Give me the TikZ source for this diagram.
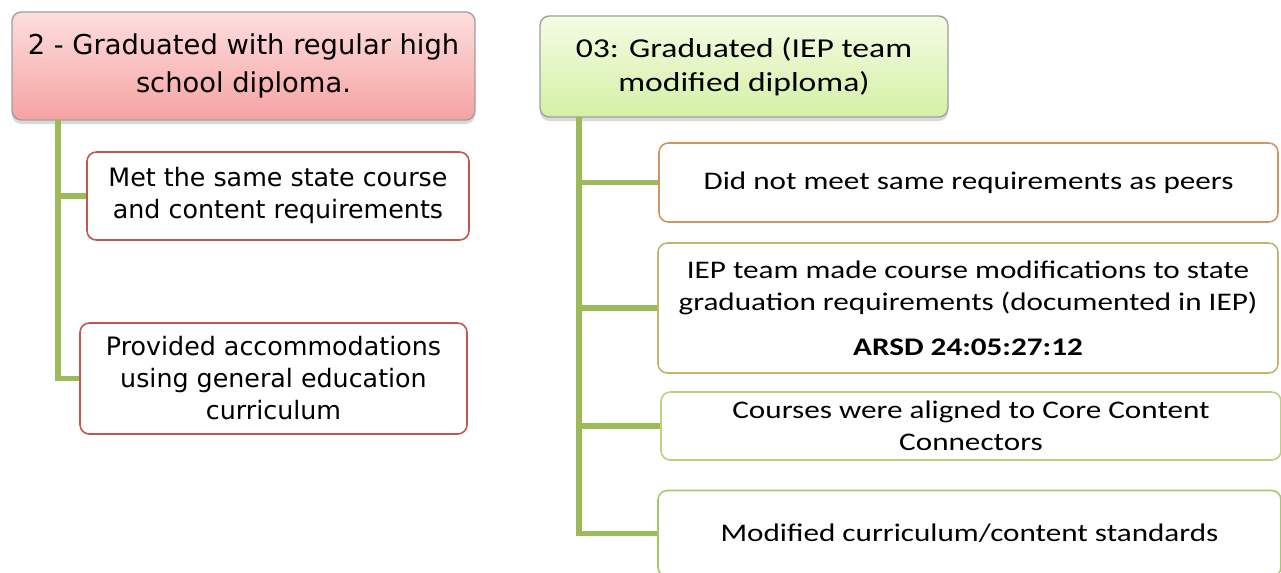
\documentclass[tikz,border=0pt]{standalone}
\usepackage{fontspec}
\setmainfont{Carlito}[FakeStretch=1.23]
\newfontfamily\verdfont{DejaVu Sans}
\usepackage{tikz}
\usetikzlibrary{positioning,shadows}
\usepackage{xcolor}
\definecolor{branchgreen}{RGB}{155,187,89}
\definecolor{metred}{RGB}{196,86,82}
\definecolor{peerbrown}{RGB}{205,150,100}
\definecolor{ieptan}{RGB}{195,180,110}
\definecolor{corelime}{RGB}{185,210,125}
\definecolor{modgreen}{RGB}{165,200,105}

\begin{document}
\begin{tikzpicture}[x=0.75pt,y=-0.75pt,
  box/.style={draw,rounded corners=7pt,fill=white,line width=1.2pt,align=center,inner sep=0pt},
  headbox/.style={box,draw=gray!75,line width=1pt,drop shadow={opacity=0.3,shadow xshift=0pt,shadow yshift=-3pt}},
  branch/.style={draw=branchgreen,line width=3.8pt},
  lefttext/.style={font=\verdfont\fontsize{19}{24}\selectfont},
  righttext/.style={font=\fontsize{19}{24}\selectfont}]
\useasboundingbox (0,0) rectangle (1281,572);

\node[headbox,top color={rgb,255:red,253;green,222;blue,222},bottom color={rgb,255:red,246;green,162;blue,162},
  minimum width=347.25pt,minimum height=81pt,font=\verdfont\fontsize{20.5}{28.5}\selectfont] (grad) at (243.5,66)
  {2 - Graduated with regular high\\school diploma.};
\node[box,draw=metred,lefttext,minimum width=286.5pt,minimum height=66pt] (samereq) at (278,196)
  {Met the same state course\\and content requirements};
\node[box,draw=metred,lefttext,minimum width=290.25pt,minimum height=83.25pt] (accom) at (273.5,378.5)
  {Provided accommodations\\using general education\\curriculum};

\node[headbox,top color={rgb,255:red,244;green,252;blue,228},bottom color={rgb,255:red,212;green,240;blue,165},
  minimum width=306pt,minimum height=75.75pt,font=\fontsize{20.5}{25.5}\selectfont] (modgrad) at (744,66.5)
  {03: Graduated (IEP team\\modified diploma)};
\node[box,draw=peerbrown,righttext,minimum width=464.25pt,minimum height=59.25pt] (peers) at (968.5,182.5)
  {Did not meet same requirements as peers};
\node[box,draw=ieptan,righttext,minimum width=465pt,minimum height=97.5pt] (iepmod) at (968,308)
  {IEP team made course modifications to state\\graduation requirements (documented in IEP)\\[10pt]\textbf{ARSD 24:05:27:12}};
\node[box,draw=corelime,righttext,minimum width=465pt,minimum height=51pt] (core) at (971,426)
  {Courses were aligned to Core Content\\Connectors};
\node[box,draw=modgreen,righttext,minimum width=467.25pt,minimum height=64.5pt] (curric) at (969.5,533.5)
  {Modified curriculum/content standards};

\coordinate (gradstem) at (58,120);
\coordinate (modstem) at (579,117);

\draw[branch] (gradstem) |- (accom.west);
\draw[branch] (gradstem |- samereq.west) -- (samereq.west);

\draw[branch] (modstem) |- (curric.west);
\draw[branch] (modstem |- peers.west) -- (peers.west);
\draw[branch] (modstem |- iepmod.west) -- (iepmod.west);
\draw[branch] (modstem |- core.west) -- (core.west);
\end{tikzpicture}
\end{document}
